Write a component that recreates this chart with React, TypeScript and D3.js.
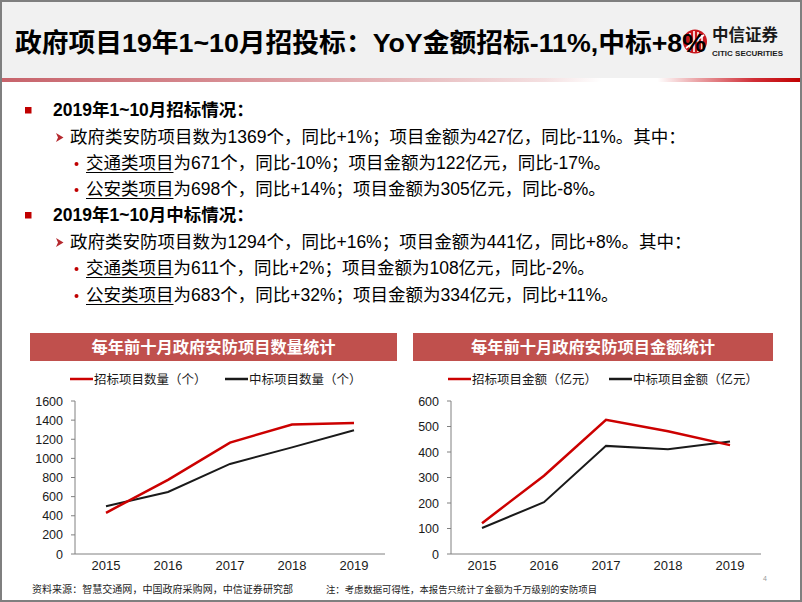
import React from "react";
import * as d3 from "d3";

const years = ["2015", "2016", "2017", "2018", "2019"];
const bidCount = [431, 775, 1165, 1355, 1369];
const winCount = [500, 648, 942, 1115, 1294];
const bidAmount = [121, 307, 526, 481, 427];
const winAmount = [102, 203, 424, 411, 441];
const countTicks = [0, 200, 400, 600, 800, 1000, 1200, 1400, 1600];
const amountTicks = [0, 100, 200, 300, 400, 500, 600];

const titleText = "政府项目19年1~10月招投标：YoY金额招标-11%,中标+8%";
const sectionHeads = ["2019年1~10月招标情况：", "2019年1~10月中标情况："];
const summaryLines = [
  "政府类安防项目数为1369个，同比+1%；项目金额为427亿，同比-11%。其中：",
  "政府类安防项目数为1294个，同比+16%；项目金额为441亿，同比+8%。其中：",
];
const subPrefixes = ["交通类项目", "公安类项目"];
const subLines = [
  ["为671个，同比-10%；项目金额为122亿元，同比-17%。", "为698个，同比+14%；项目金额为305亿元，同比-8%。"],
  ["为611个，同比+2%；项目金额为108亿元，同比-2%。", "为683个，同比+32%；项目金额为334亿元，同比+11%。"],
];
const chartTitles = ["每年前十月政府安防项目数量统计", "每年前十月政府安防项目金额统计"];
const legendCount = ["招标项目数量（个）", "中标项目数量（个）"];
const legendAmount = ["招标项目金额（亿元）", "中标项目金额（亿元）"];
const sourceText = "资料来源：智慧交通网，中国政府采购网，中信证券研究部";
const noteText = "注：考虑数据可得性，本报告只统计了金额为千万级别的安防项目";

const FONT = '"Liberation Sans", Arial, "Noto Sans CJK SC", sans-serif';
const RED = "#cc0000";
const BLACK = "#1a1a1a";

type ChartProps = {
  x0: number;
  x1: number;
  barX0: number;
  barX1: number;
  title: string;
  legend: string[];
  legendX: number[];
  ticks: number[];
  max: number;
  red: number[];
  black: number[];
};

function LineChart(p: ChartProps) {
  const yTop = 401;
  const yBot = 554;
  const x = d3.scaleBand<string>().domain(years).range([p.x0, p.x1]);
  const y = d3.scaleLinear().domain([0, p.max]).range([yBot, yTop]);
  const line = d3
    .line<number>()
    .x((_, i) => (x(years[i]) as number) + x.bandwidth() / 2)
    .y((d) => y(d));
  const legendY = 379;
  return (
    <g>
      <rect x={p.barX0} y={333} width={p.barX1 - p.barX0} height={28} fill="#c0504d" />
      <text
        x={(p.barX0 + p.barX1) / 2}
        y={352.5}
        textAnchor="middle"
        fontFamily={FONT}
        fontWeight="bold"
        fontSize={16.3}
        fill="#ffffff"
      >
        {p.title}
      </text>
      {p.legend.map((t, i) => (
        <g key={t}>
          <line
            x1={p.legendX[i]}
            x2={p.legendX[i] + 23}
            y1={legendY}
            y2={legendY}
            stroke={i === 0 ? RED : BLACK}
            strokeWidth={2.5}
          />
          <text x={p.legendX[i] + 24} y={legendY + 4.5} fontFamily={FONT} fontSize={12.5} fill="#1a1a1a">
            {t}
          </text>
        </g>
      ))}
      <line x1={p.x0} x2={p.x0} y1={yTop} y2={yBot} stroke="#808080" strokeWidth={1} />
      <line x1={p.x0} x2={p.x1} y1={yBot} y2={yBot} stroke="#808080" strokeWidth={1} />
      {p.ticks.map((t) => (
        <g key={t}>
          <line x1={p.x0 - 4} x2={p.x0} y1={y(t)} y2={y(t)} stroke="#808080" strokeWidth={1} />
          <text x={p.x0 - 12} y={y(t) + 4.5} textAnchor="end" fontFamily={FONT} fontSize={12.5} fill="#1a1a1a">
            {t}
          </text>
        </g>
      ))}
      {years.map((yr) => (
        <text
          key={yr}
          x={(x(yr) as number) + x.bandwidth() / 2}
          y={570}
          textAnchor="middle"
          fontFamily={FONT}
          fontSize={13}
          fill="#1a1a1a"
        >
          {yr}
        </text>
      ))}
      <path d={line(p.black) || ""} fill="none" stroke={BLACK} strokeWidth={2} />
      <path d={line(p.red) || ""} fill="none" stroke={RED} strokeWidth={2.5} />
    </g>
  );
}

export default function App() {
  const fs = 17.5;
  const lineY = [110, 137, 163, 189, 215, 242, 268, 295];
  const rows: React.ReactNode[] = [];
  for (let s = 0; s < 2; s++) {
    const base = s * 4;
    const yh = lineY[base];
    rows.push(
      <g key={"h" + s}>
        <rect x={25} y={yh - 3} width={6.5} height={6.5} fill="#c00000" />
        <text x={53} y={yh + 6} fontFamily={FONT} fontWeight="bold" fontSize={fs} fill="#000">
          {sectionHeads[s]}
        </text>
      </g>
    );
    const ys = lineY[base + 1];
    rows.push(
      <g key={"s" + s}>
        <path
          d={`M56,${ys - 4} L63.5,${ys + 0.5} L56,${ys + 5} L58,${ys + 0.5} Z`}
          fill="#b5292e"
        />
        <text x={70} y={ys + 6} fontFamily={FONT} fontSize={fs} fill="#000">
          {summaryLines[s]}
        </text>
      </g>
    );
    for (let k = 0; k < 2; k++) {
      const yy = lineY[base + 2 + k];
      rows.push(
        <g key={"l" + s + k}>
          <circle cx={76.5} cy={yy + 1} r={2} fill="#c00000" />
          <text x={86} y={yy + 6} fontFamily={FONT} fontSize={fs} fill="#000">
            <tspan>{subPrefixes[k]}</tspan>
            <tspan>{subLines[s][k]}</tspan>
          </text>
          <line x1={86} x2={86 + 5 * fs} y1={yy + 9.5} y2={yy + 9.5} stroke="#000" strokeWidth={1} />
        </g>
      );
    }
  }

  return (
    <svg
      width={802}
      height={602}
      style={{ position: "absolute", left: 0, top: 0, background: "#ffffff" }}
    >
      <defs>
        <linearGradient id="hdrLine" x1="0" x2="1" y1="0" y2="0">
          <stop offset="0" stopColor="#c7636b" />
          <stop offset="0.25" stopColor="#d5888e" />
          <stop offset="0.5" stopColor="#e6b9bc" />
          <stop offset="0.68" stopColor="#f4e0e1" />
          <stop offset="0.75" stopColor="#ffffff" />
          <stop offset="0.82" stopColor="#ffffff" />
          <stop offset="0.87" stopColor="#eaa3a6" />
          <stop offset="0.94" stopColor="#d02e36" />
          <stop offset="1" stopColor="#c00000" />
        </linearGradient>
      </defs>
      <rect x={0} y={0} width={802} height={602} fill="#ffffff" />
      <rect x={0} y={0} width={802} height={79} fill="#f1f1f1" />
      <rect x={0} y={78} width={802} height={4} fill="url(#hdrLine)" />
      {/* logo */}
      <g>
        <circle cx={695} cy={41.5} r={12} fill="#c8161d" />
        <g stroke="#ffffff" strokeWidth={1.6} fill="none">
          <line x1={690} y1={33} x2={690} y2={51} />
          <line x1={694} y1={31} x2={694} y2={52} />
          <line x1={698} y1={32} x2={698} y2={52} />
          <line x1={702} y1={35} x2={702} y2={49} />
          <line x1={686} y1={48} x2={704} y2={35} />
        </g>
        <text x={712} y={41} fontFamily='"Noto Sans CJK SC", serif' fontWeight="bold" fontSize={16.5} fill="#1a1a1a">
          中信证券
        </text>
        <text
          x={712}
          y={56}
          fontFamily={FONT}
          fontWeight="bold"
          fontSize={7.5}
          fill="#1a1a1a"
          textLength={71}
          lengthAdjust="spacingAndGlyphs"
        >
          CITIC SECURITIES
        </text>
      </g>
      <text
        x={15}
        y={52}
        fontFamily={FONT}
        fontWeight="bold"
        fontSize={26.5}
        fill="#000"
        textLength={691}
        lengthAdjust="spacingAndGlyphs"
      >
        {titleText}
      </text>
      {rows}
      <LineChart
        x0={75}
        x1={385}
        barX0={30}
        barX1={397}
        title={chartTitles[0]}
        legend={legendCount}
        legendX={[70, 225]}
        ticks={countTicks}
        max={1600}
        red={bidCount}
        black={winCount}
      />
      <LineChart
        x0={451}
        x1={761}
        barX0={413}
        barX1={773}
        title={chartTitles[1]}
        legend={legendAmount}
        legendX={[448, 609]}
        ticks={amountTicks}
        max={600}
        red={bidAmount}
        black={winAmount}
      />
      <text
        x={32}
        y={593}
        fontFamily={FONT}
        fontSize={9.8}
        fill="#222"
        textLength={261}
        lengthAdjust="spacingAndGlyphs"
      >
        {sourceText}
      </text>
      <text
        x={326}
        y={593}
        fontFamily={FONT}
        fontSize={9.5}
        fill="#222"
        textLength={271}
        lengthAdjust="spacingAndGlyphs"
      >
        {noteText}
      </text>
      <text x={763} y={581} fontFamily={FONT} fontSize={7} fill="#999">
        4
      </text>
      <rect x={1} y={1} width={800} height={600} fill="none" stroke="#7f7f7f" strokeWidth={2} />
    </svg>
  );
}
